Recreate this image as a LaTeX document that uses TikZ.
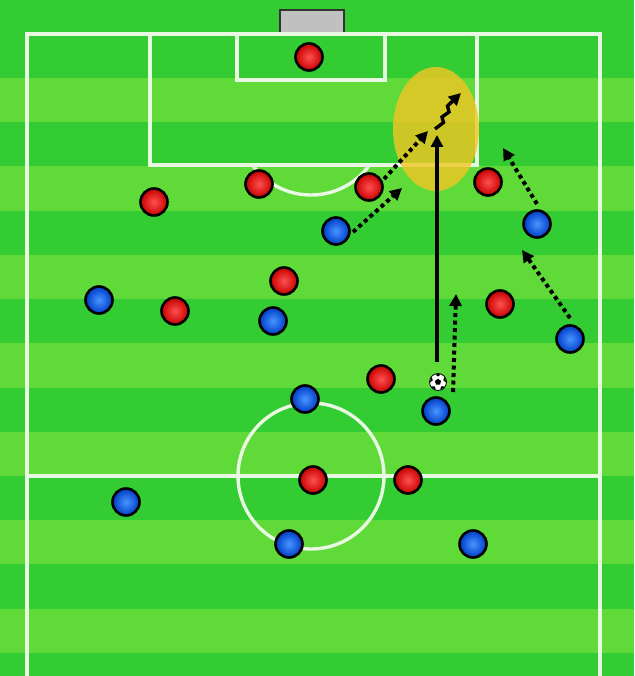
\documentclass[tikz,border=0pt]{standalone}
\usetikzlibrary{arrows.meta,shapes.geometric}
\definecolor{darkturf}{RGB}{51,204,51}
\definecolor{lightturf}{RGB}{95,218,56}
\definecolor{pitchline}{RGB}{232,248,226}
\definecolor{hotzone}{RGB}{243,197,37}
\definecolor{goalgray}{RGB}{192,192,192}
\definecolor{redin}{RGB}{255,80,80}
\definecolor{redout}{RGB}{200,0,0}
\definecolor{bluein}{RGB}{70,150,255}
\definecolor{blueout}{RGB}{0,60,200}
\begin{document}
\begin{tikzpicture}[x=1pt,y=-1pt,
  fieldline/.style={draw=pitchline, line width=3.4pt},
  player/.style={circle, draw=black, line width=2.6pt, minimum size=27pt, inner sep=0pt, shade, shading=radial},
  redp/.style={player, inner color=redin, outer color=redout},
  bluep/.style={player, inner color=bluein, outer color=blueout},
  runarrow/.style={draw=black, line width=4pt, dash pattern=on 4pt off 3.5pt, -{Triangle[length=12pt,width=12pt]}},
  passarrow/.style={draw=black, line width=3.6pt, -{Triangle[length=12pt,width=12pt]}},
  dribblearrow/.style={draw=black, line width=3.4pt, line join=miter, -{Triangle[length=12pt,width=12pt]}}
]
\useasboundingbox (0,0) rectangle (634,676);
% turf
\fill[darkturf] (0,0) rectangle (634,676);
\foreach \k in {0,...,6}{
  \fill[lightturf] (0,{78+88.45*\k}) rectangle (634,{78+88.45*\k+44.2});
}
% goal
\draw[fill=goalgray, draw=black!80, line width=1.2pt] (280,34) -- (280,10) -- (344,10) -- (344,34);
% field lines
\draw[fieldline] (27,676) -- (27,34) -- (600,34) -- (600,676);
\draw[fieldline] (27,476) -- (600,476);
\draw[fieldline] (150,34) -- (150,165) -- (477,165) -- (477,34);
\draw[fieldline] (237,34) -- (237,80) -- (385,80) -- (385,34);
\begin{scope}
  \clip (140,166.7) rectangle (490,300);
  \draw[fieldline] (311,123) circle[radius=72pt];
\end{scope}
\draw[fieldline] (311,476) circle[radius=73pt];
% hot zone
\fill[hotzone, fill opacity=0.8] (436,129) ellipse[x radius=43pt, y radius=62pt];
% arrow end points
\coordinate (s1) at (437,362); \coordinate (e1) at (437,135);
\coordinate (z0) at (435,129); \coordinate (z1) at (443.5,122.5); \coordinate (z2) at (442,117);
\coordinate (z3) at (449,112); \coordinate (z4) at (447.5,106); \coordinate (z5) at (461,93);
\coordinate (a0) at (353,232); \coordinate (a1) at (402,188);
\coordinate (c0) at (384,179); \coordinate (c1) at (428,131);
\coordinate (d0) at (537,204); \coordinate (d1) at (503,148);
\coordinate (f0) at (570,318); \coordinate (f1) at (522,250);
\coordinate (g0) at (453,392); \coordinate (g1) at (456,294);
% arrows
\draw[passarrow] (s1) -- (e1);
\draw[dribblearrow] (z0) -- (z1) -- (z2) -- (z3) -- (z4) -- (z5);
\draw[runarrow] (a0) -- (a1);
\draw[runarrow] (c0) -- (c1);
\draw[runarrow] (d0) -- (d1);
\draw[runarrow] (f0) -- (f1);
\draw[runarrow] (g0) -- (g1);
% red players
\node[redp] (r1) at (309,57) {};
\node[redp] (r2) at (154,202) {};
\node[redp] (r3) at (259,184) {};
\node[redp] (r4) at (369,187) {};
\node[redp] (r5) at (488,182) {};
\node[redp] (r6) at (284,281) {};
\node[redp] (r7) at (175,311) {};
\node[redp] (r8) at (500,304) {};
\node[redp] (r9) at (381,379) {};
\node[redp] (r10) at (313,480) {};
\node[redp] (r11) at (408,480) {};
% blue players
\node[bluep] (b1) at (336,231) {};
\node[bluep] (b2) at (537,224) {};
\node[bluep] (b3) at (99,300) {};
\node[bluep] (b4) at (273,321) {};
\node[bluep] (b5) at (570,339) {};
\node[bluep] (b6) at (305,399) {};
\node[bluep] (b7) at (436,411) {};
\node[bluep] (b8) at (126,502) {};
\node[bluep] (b9) at (289,544) {};
\node[bluep] (b10) at (473,544) {};
% ball
\node[circle, fill=white, draw=black, line width=0.8pt, minimum size=17pt, inner sep=0pt] (ball) at (438,382) {};
\begin{scope}
  \clip (ball.center) circle[radius=8pt];
  \node[regular polygon, regular polygon sides=5, fill=black, minimum size=6.5pt, inner sep=0pt] at (ball.center) {};
  \foreach \a in {18,90,162,234,306}{
    \node[regular polygon, regular polygon sides=5, fill=black, minimum size=6pt, inner sep=0pt, rotate=180] at ([shift={(\a:8.5pt)}]ball.center) {};
  }
\end{scope}
\end{tikzpicture}
\end{document}
